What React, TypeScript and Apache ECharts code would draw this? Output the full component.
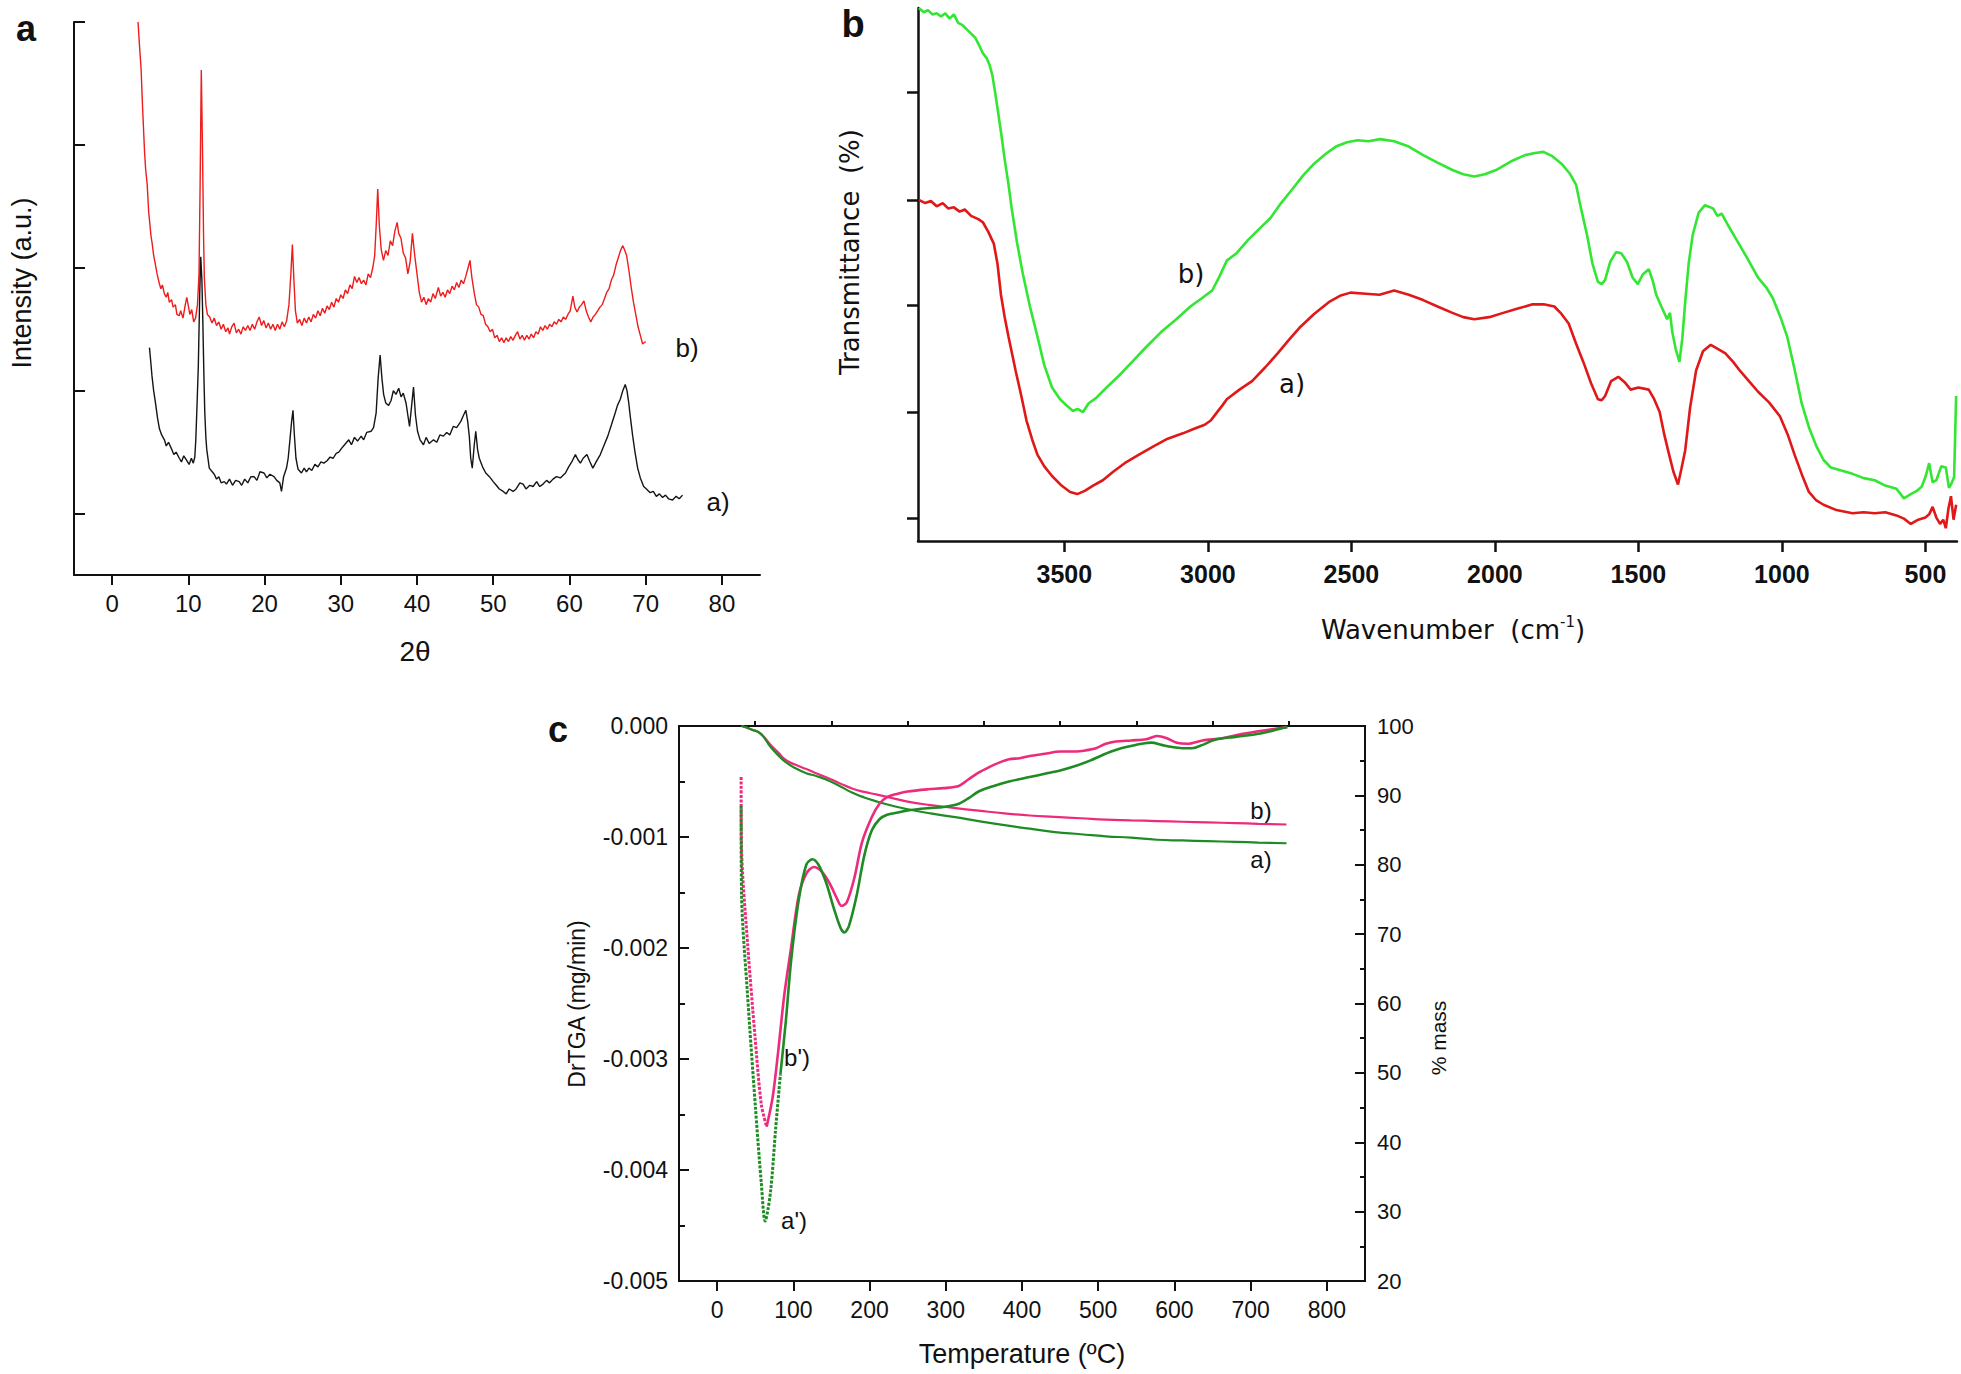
import React, { useEffect, useRef } from "react";
import * as echarts from "echarts";

// ---------- Panel a (XRD) ----------
const xrdTicksX = [0, 10, 20, 30, 40, 50, 60, 70, 80];
const xrdTicksY = [0.5, 1.5, 2.5, 3.5, 4.5];
const xrdB = [[3.4,4.5],[3.6,4.3],[3.8,4.12],[4.0,3.8],[4.25,3.45],[4.4,3.3],[4.6,3.18],[4.8,2.95],[4.9,2.89],[5.1,2.76],[5.25,2.7],[5.45,2.6],[5.7,2.52],[5.9,2.45],[6.2,2.37],[6.4,2.33],[6.6,2.36],[6.85,2.29],[7.1,2.26],[7.3,2.3],[7.5,2.22],[7.8,2.24],[8.0,2.18],[8.3,2.2],[8.5,2.12],[8.8,2.11],[9.0,2.15],[9.3,2.09],[9.6,2.2],[9.8,2.26],[10.0,2.19],[10.2,2.12],[10.45,2.16],[10.7,2.06],[10.95,2.09],[11.2,2.2],[11.4,2.45],[11.55,3.2],[11.7,4.11],[11.85,3.5],[12.0,2.75],[12.1,2.42],[12.3,2.2],[12.5,2.12],[12.8,2.1],[13.1,2.05],[13.4,2.09],[13.7,2.03],[14.0,2.06],[14.3,2.0],[14.6,2.04],[14.9,1.98],[15.2,2.01],[15.4,1.96],[15.7,2.02],[16.0,2.05],[16.3,1.97],[16.6,2.0],[16.9,1.96],[17.2,2.02],[17.5,1.99],[17.8,2.03],[18.1,1.99],[18.4,2.04],[18.7,2.0],[19.0,2.06],[19.3,2.1],[19.6,2.03],[19.9,2.07],[20.2,2.01],[20.5,2.05],[20.8,2.0],[21.1,2.04],[21.4,1.99],[21.7,2.04],[22.0,2.0],[22.3,2.06],[22.6,2.02],[22.9,2.07],[23.2,2.2],[23.45,2.45],[23.65,2.69],[23.85,2.4],[24.05,2.15],[24.3,2.05],[24.6,2.08],[24.9,2.03],[25.2,2.09],[25.5,2.05],[25.8,2.1],[26.1,2.06],[26.4,2.12],[26.7,2.09],[27.0,2.15],[27.3,2.11],[27.6,2.17],[27.9,2.13],[28.2,2.19],[28.5,2.16],[28.8,2.22],[29.1,2.18],[29.4,2.25],[29.7,2.22],[30.0,2.28],[30.3,2.25],[30.6,2.32],[30.9,2.29],[31.2,2.36],[31.5,2.33],[31.8,2.43],[32.1,2.38],[32.4,2.42],[32.7,2.37],[33.0,2.4],[33.3,2.36],[33.6,2.45],[33.9,2.42],[34.2,2.5],[34.45,2.6],[34.65,2.85],[34.85,3.14],[35.05,2.85],[35.3,2.65],[35.6,2.56],[35.9,2.64],[36.2,2.6],[36.5,2.72],[36.8,2.68],[37.1,2.8],[37.4,2.87],[37.6,2.78],[37.9,2.74],[38.2,2.62],[38.5,2.58],[38.8,2.45],[39.1,2.55],[39.4,2.78],[39.7,2.6],[40.0,2.45],[40.3,2.3],[40.6,2.22],[40.9,2.26],[41.2,2.2],[41.5,2.25],[41.8,2.22],[42.1,2.29],[42.4,2.25],[42.8,2.34],[43.1,2.27],[43.4,2.3],[43.7,2.26],[44.0,2.32],[44.3,2.29],[44.6,2.35],[44.9,2.32],[45.2,2.38],[45.5,2.34],[45.8,2.4],[46.1,2.37],[46.4,2.43],[46.7,2.5],[46.95,2.56],[47.2,2.42],[47.5,2.3],[47.8,2.2],[48.1,2.18],[48.4,2.12],[48.7,2.11],[49.0,2.04],[49.3,2.02],[49.6,1.98],[49.9,2.0],[50.2,1.93],[50.5,1.95],[50.8,1.9],[51.1,1.93],[51.4,1.89],[51.7,1.93],[52.0,1.9],[52.3,1.94],[52.6,1.91],[52.9,1.95],[53.2,1.98],[53.5,1.92],[53.8,1.95],[54.1,1.91],[54.4,1.95],[54.7,1.92],[55.0,1.96],[55.3,1.93],[55.6,1.98],[55.9,1.96],[56.2,2.02],[56.5,1.99],[56.8,2.03],[57.1,2.0],[57.4,2.04],[57.7,2.02],[58.0,2.06],[58.3,2.04],[58.6,2.08],[58.9,2.06],[59.2,2.1],[59.5,2.08],[59.8,2.12],[60.1,2.15],[60.45,2.27],[60.7,2.18],[61.0,2.14],[61.3,2.18],[61.6,2.2],[61.9,2.23],[62.2,2.15],[62.5,2.1],[62.8,2.06],[63.1,2.1],[63.4,2.12],[63.7,2.15],[64.0,2.18],[64.3,2.2],[64.6,2.25],[64.9,2.3],[65.2,2.33],[65.5,2.4],[65.8,2.44],[66.1,2.52],[66.4,2.58],[66.7,2.64],[67.0,2.68],[67.2,2.65],[67.5,2.6],[67.8,2.48],[68.1,2.34],[68.4,2.22],[68.7,2.12],[69.0,2.02],[69.3,1.95],[69.6,1.88],[70.0,1.9]];
const xrdA = [[4.9,1.85],[5.05,1.75],[5.23,1.62],[5.45,1.5],[5.69,1.4],[5.95,1.28],[6.21,1.19],[6.5,1.14],[6.86,1.1],[7.1,1.05],[7.4,1.08],[7.84,1.02],[8.1,0.98],[8.4,1.0],[8.82,0.95],[9.1,0.92],[9.4,0.97],[9.8,0.93],[10.1,0.9],[10.4,0.95],[10.65,0.91],[10.85,0.96],[10.98,1.1],[11.15,1.4],[11.31,1.7],[11.5,2.3],[11.63,2.59],[11.78,2.4],[11.9,2.07],[12.05,1.6],[12.16,1.32],[12.3,1.12],[12.42,1.02],[12.75,0.87],[13.0,0.85],[13.4,0.82],[13.7,0.78],[14.0,0.8],[14.3,0.75],[14.71,0.76],[15.0,0.74],[15.4,0.78],[15.8,0.73],[16.2,0.77],[16.67,0.76],[17.0,0.73],[17.4,0.78],[17.8,0.75],[18.2,0.8],[18.63,0.8],[19.0,0.77],[19.4,0.84],[19.93,0.83],[20.3,0.79],[20.7,0.82],[21.24,0.8],[21.6,0.77],[22.0,0.75],[22.22,0.68],[22.5,0.8],[22.88,0.87],[23.1,0.95],[23.33,1.1],[23.55,1.25],[23.73,1.34],[23.9,1.15],[24.12,0.95],[24.4,0.86],[24.84,0.83],[25.2,0.87],[25.5,0.84],[25.82,0.87],[26.2,0.85],[26.6,0.9],[27.0,0.88],[27.4,0.92],[27.78,0.91],[28.2,0.93],[28.6,0.96],[29.0,0.95],[29.4,0.99],[29.74,1.0],[30.1,1.03],[30.5,1.06],[31.05,1.1],[31.4,1.06],[31.8,1.12],[32.2,1.09],[32.68,1.13],[33.0,1.1],[33.4,1.16],[33.99,1.17],[34.3,1.2],[34.64,1.32],[34.9,1.6],[35.16,1.79],[35.4,1.6],[35.62,1.47],[35.9,1.4],[36.27,1.38],[36.6,1.42],[36.9,1.5],[37.25,1.47],[37.6,1.52],[37.91,1.45],[38.2,1.48],[38.56,1.4],[38.8,1.3],[39.02,1.21],[39.3,1.38],[39.54,1.53],[39.8,1.3],[40.07,1.17],[40.4,1.1],[40.85,1.06],[41.2,1.12],[41.6,1.07],[42.16,1.1],[42.6,1.08],[43.0,1.14],[43.46,1.13],[43.9,1.16],[44.3,1.14],[44.77,1.21],[45.2,1.2],[45.75,1.25],[46.1,1.3],[46.41,1.34],[46.65,1.25],[46.86,1.13],[47.05,0.95],[47.25,0.87],[47.5,1.05],[47.71,1.17],[47.95,1.02],[48.17,0.95],[48.6,0.88],[49.02,0.83],[49.5,0.8],[50.0,0.76],[50.4,0.73],[50.8,0.7],[51.31,0.68],[51.7,0.66],[52.1,0.7],[52.61,0.68],[53.0,0.7],[53.5,0.75],[53.92,0.74],[54.3,0.7],[54.8,0.73],[55.23,0.72],[55.7,0.76],[56.1,0.72],[56.54,0.74],[57.0,0.77],[57.4,0.75],[57.84,0.78],[58.3,0.8],[58.8,0.79],[59.48,0.83],[59.9,0.88],[60.3,0.92],[60.78,0.98],[61.1,0.94],[61.44,0.91],[61.8,0.95],[62.29,0.98],[62.7,0.92],[63.07,0.87],[63.5,0.92],[64.05,0.98],[64.5,1.05],[65.03,1.13],[65.5,1.22],[66.01,1.32],[66.3,1.38],[66.67,1.43],[67.0,1.5],[67.32,1.55],[67.55,1.5],[67.78,1.4],[68.0,1.28],[68.3,1.13],[68.6,1.0],[68.95,0.87],[69.3,0.79],[69.74,0.72],[70.1,0.7],[70.59,0.67],[71.0,0.68],[71.4,0.64],[71.8,0.66],[72.22,0.63],[72.6,0.65],[73.0,0.62],[73.53,0.61],[74.0,0.64],[74.4,0.62],[74.84,0.65]];

// ---------- Panel b (FTIR) ----------
const irTicksX = [500, 1000, 1500, 2000, 2500, 3000, 3500];
const irTicksY = [0.21, 1.21, 2.21, 3.2, 4.21];
const irB = [[4007,5.0],[3990,4.96],[3975,4.98],[3960,4.94],[3945,4.95],[3930,4.92],[3915,4.95],[3900,4.9],[3885,4.94],[3870,4.86],[3855,4.84],[3840,4.8],[3825,4.76],[3810,4.72],[3797,4.65],[3785,4.58],[3771,4.53],[3760,4.46],[3751,4.37],[3742,4.22],[3733,4.06],[3720,3.82],[3708,3.58],[3695,3.35],[3683,3.11],[3665,2.8],[3645,2.51],[3620,2.2],[3594,1.92],[3570,1.65],[3543,1.44],[3515,1.33],[3492,1.27],[3470,1.22],[3454,1.24],[3435,1.21],[3416,1.29],[3390,1.34],[3353,1.44],[3310,1.55],[3264,1.68],[3215,1.82],[3163,1.96],[3110,2.08],[3061,2.2],[3020,2.28],[2985,2.35],[2960,2.48],[2934,2.63],[2900,2.7],[2858,2.83],[2820,2.93],[2782,3.03],[2745,3.17],[2706,3.3],[2668,3.43],[2630,3.54],[2590,3.63],[2554,3.7],[2515,3.74],[2478,3.76],[2440,3.75],[2400,3.77],[2351,3.75],[2300,3.7],[2250,3.62],[2200,3.55],[2148,3.48],[2110,3.44],[2072,3.42],[2035,3.44],[1996,3.48],[1945,3.56],[1895,3.62],[1860,3.64],[1831,3.65],[1800,3.61],[1768,3.54],[1740,3.45],[1717,3.34],[1700,3.12],[1679,2.87],[1660,2.6],[1641,2.43],[1628,2.41],[1616,2.45],[1598,2.62],[1578,2.71],[1560,2.7],[1540,2.62],[1520,2.47],[1502,2.41],[1485,2.5],[1464,2.55],[1450,2.44],[1438,2.31],[1420,2.2],[1400,2.08],[1390,2.14],[1382,1.96],[1370,1.8],[1357,1.68],[1347,1.9],[1337,2.24],[1325,2.6],[1311,2.87],[1290,3.08],[1268,3.15],[1240,3.12],[1225,3.05],[1210,3.07],[1185,2.95],[1159,2.83],[1120,2.65],[1083,2.47],[1055,2.38],[1032,2.28],[1005,2.1],[982,1.92],[955,1.6],[931,1.29],[905,1.06],[880,0.89],[855,0.76],[830,0.69],[790,0.66],[754,0.63],[715,0.59],[677,0.57],[640,0.52],[601,0.49],[575,0.4],[551,0.44],[530,0.47],[513,0.51],[500,0.6],[487,0.73],[475,0.55],[462,0.57],[445,0.7],[429,0.69],[418,0.5],[411,0.53],[400,0.6],[393,1.36]];
const irA = [[4007,3.2],[3985,3.17],[3965,3.19],[3945,3.14],[3924,3.17],[3905,3.12],[3885,3.13],[3865,3.09],[3847,3.11],[3825,3.05],[3800,3.02],[3784,2.99],[3765,2.9],[3746,2.79],[3733,2.6],[3721,2.31],[3708,2.1],[3695,1.92],[3670,1.6],[3650,1.36],[3632,1.13],[3612,0.95],[3594,0.81],[3570,0.7],[3543,0.61],[3510,0.52],[3480,0.46],[3455,0.44],[3429,0.47],[3400,0.52],[3366,0.57],[3330,0.65],[3290,0.73],[3240,0.81],[3188,0.89],[3140,0.96],[3087,1.01],[3050,1.05],[3011,1.09],[2990,1.13],[2973,1.19],[2950,1.27],[2934,1.33],[2890,1.42],[2846,1.5],[2800,1.63],[2757,1.76],[2720,1.88],[2681,2.0],[2630,2.13],[2579,2.24],[2540,2.3],[2503,2.33],[2450,2.32],[2402,2.31],[2351,2.35],[2300,2.31],[2250,2.26],[2200,2.2],[2148,2.14],[2110,2.1],[2072,2.08],[2020,2.1],[1971,2.14],[1920,2.18],[1869,2.22],[1830,2.22],[1793,2.2],[1768,2.13],[1743,2.04],[1717,1.85],[1692,1.68],[1665,1.48],[1641,1.33],[1628,1.32],[1616,1.36],[1595,1.5],[1570,1.54],[1548,1.49],[1527,1.42],[1500,1.44],[1464,1.42],[1445,1.33],[1426,1.21],[1410,1.0],[1393,0.81],[1378,0.65],[1362,0.53],[1350,0.68],[1337,0.85],[1320,1.25],[1299,1.6],[1275,1.78],[1248,1.84],[1222,1.8],[1197,1.76],[1170,1.68],[1147,1.6],[1115,1.5],[1083,1.4],[1045,1.3],[1007,1.17],[980,1.0],[956,0.81],[930,0.62],[906,0.46],[880,0.38],[855,0.34],[810,0.29],[754,0.26],[715,0.27],[677,0.26],[640,0.27],[601,0.24],[575,0.21],[551,0.16],[525,0.2],[500,0.22],[487,0.25],[475,0.32],[462,0.22],[449,0.16],[438,0.2],[429,0.12],[420,0.3],[411,0.42],[402,0.2],[393,0.34]];

// ---------- Panel c (TGA / DrTGA) ----------
const tgaTicksX = [0, 100, 200, 300, 400, 500, 600, 700, 800];
const tgaMinorX = [50, 150, 250, 350, 450, 550, 650, 750];
// DrTGA b' : sparse (dotted) start, then continuous
const drtgaBStart = [[31.5,-0.00046],[32,-0.00109],[40,-0.00196],[50,-0.00282],[58,-0.00341],[65,-0.00361]];
const drtgaB = [[65,-0.00361],[73,-0.00334],[80,-0.00294],[88,-0.00243],[97,-0.002],[107,-0.00153],[117,-0.00133],[127,-0.00127],[137,-0.00131],[147,-0.00141],[157,-0.00155],[163,-0.00162],[170,-0.00159],[180,-0.00137],[190,-0.00105],[203,-0.00082],[213,-0.0007],[223,-0.00064],[237,-0.00061],[250,-0.00059],[277,-0.00057],[297,-0.00056],[317,-0.00054],[330,-0.00048],[343,-0.00042],[357,-0.00037],[370,-0.00033],[383,-0.0003],[397,-0.00029],[410,-0.00027],[430,-0.00025],[450,-0.00023],[470,-0.00023],[483,-0.00022],[497,-0.0002],[510,-0.00016],[523,-0.00014],[543,-0.00013],[563,-0.00012],[577,-0.00009],[590,-0.00011],[603,-0.00015],[617,-0.00016],[637,-0.00013],[663,-0.00011],[690,-0.00007],[717,-0.00004],[748,-0.00001]];
// DrTGA a'
const drtgaAStart = [[31.5,-0.00072],[32,-0.0015],[40,-0.00243],[50,-0.00341],[58,-0.00412],[63,-0.00446],[70,-0.0042],[77,-0.00361],[83,-0.00314]];
const drtgaA = [[83,-0.00314],[90,-0.00267],[97,-0.00212],[107,-0.00157],[117,-0.00125],[125,-0.0012],[133,-0.00125],[143,-0.00141],[153,-0.00164],[162,-0.00182],[167,-0.00186],[173,-0.0018],[183,-0.00153],[193,-0.00117],[203,-0.00094],[213,-0.00084],[223,-0.0008],[237,-0.00078],[250,-0.00076],[277,-0.00074],[297,-0.00073],[317,-0.0007],[330,-0.00065],[343,-0.00059],[363,-0.00054],[383,-0.0005],[410,-0.00046],[430,-0.00043],[450,-0.0004],[470,-0.00036],[490,-0.00031],[503,-0.00027],[517,-0.00023],[530,-0.0002],[543,-0.00018],[557,-0.00016],[570,-0.00015],[583,-0.00017],[597,-0.00019],[610,-0.0002],[623,-0.0002],[637,-0.00017],[650,-0.00013],[663,-0.00011],[677,-0.0001],[690,-0.00009],[710,-0.00007],[730,-0.00004],[748,-0.00001]];
const massB = [[32,100],[45,99.5],[57,98.9],[70,97.3],[80,96.2],[90,95.1],[103,94.4],[117,93.8],[130,93.2],[143,92.6],[160,91.8],[177,91],[193,90.5],[210,90.1],[230,89.6],[250,89.1],[280,88.6],[310,88.2],[343,87.8],[377,87.4],[410,87.1],[443,86.9],[477,86.7],[510,86.5],[543,86.4],[577,86.3],[610,86.2],[643,86.1],[680,86],[710,85.9],[747,85.8]];
const massA = [[32,100],[45,99.5],[57,98.9],[70,97],[80,95.8],[90,94.8],[103,93.9],[117,93.2],[130,92.8],[143,92.3],[160,91.4],[177,90.4],[193,89.7],[210,89.1],[230,88.5],[250,88],[280,87.4],[310,86.9],[343,86.3],[377,85.7],[410,85.2],[443,84.7],[477,84.4],[510,84.1],[543,83.9],[577,83.6],[610,83.5],[643,83.4],[680,83.3],[710,83.2],[747,83.1]];

const SANS = "'Liberation Sans', Arial, sans-serif";
const VERD = "'DejaVu Sans', Verdana, sans-serif";
const INK = "#111";
const PINK = "#ee2a7b";
const GREEN = "#1f8b24";

function line(data: number[][], color: string, width: number, xi: number, yi: number, smooth: any = false, type: any = "solid") {
  return {
    type: "line", data, xAxisIndex: xi, yAxisIndex: yi, showSymbol: false, symbol: "none",
    smooth, lineStyle: { color, width, type }, silent: true, z: 3,
  };
}

function txt(text: string, x: number, y: number, size: number, opts: any = {}) {
  return {
    type: "text", x, y, rotation: opts.rot || 0, silent: true,
    style: {
      text, fontSize: size, fontFamily: opts.family || SANS, fontWeight: opts.weight || "normal",
      fill: INK, align: opts.align || "center", verticalAlign: "middle",
    },
  };
}

export default function App() {
  const ref = useRef<HTMLDivElement>(null);
  useEffect(() => {
    if (!ref.current) return;
    const chart = echarts.init(ref.current, null, { renderer: "svg" });
    const axisLine = (w: number) => ({ show: true, onZero: false, lineStyle: { color: INK, width: w } });
    chart.setOption({
      animation: false,
      backgroundColor: "#ffffff",
      grid: [
        { left: 74, top: 22, width: 686, height: 553 },
        { left: 918, top: 8, width: 1039, height: 533 },
        { left: 679, top: 726, width: 686, height: 555, show: true, borderColor: INK, borderWidth: 2, backgroundColor: "transparent" },
      ],
      xAxis: [
        {
          gridIndex: 0, type: "value", min: -5, max: 85, axisLine: axisLine(2), splitLine: { show: false },
          axisTick: { customValues: xrdTicksX, length: 10, lineStyle: { color: INK, width: 2 } },
          axisLabel: { customValues: xrdTicksX, fontSize: 24, fontFamily: SANS, color: INK, margin: 16 },
        },
        {
          gridIndex: 1, type: "value", min: 390, max: 4010, inverse: true, axisLine: axisLine(2.5), splitLine: { show: false },
          axisTick: { customValues: irTicksX, length: 11, lineStyle: { color: INK, width: 2.5 } },
          axisLabel: { customValues: irTicksX, fontSize: 25, fontWeight: "bold", fontFamily: SANS, color: INK, margin: 20, formatter: (v: number) => String(v) },
        },
        {
          gridIndex: 2, type: "value", min: -50, max: 850, axisLine: axisLine(2), splitLine: { show: false },
          axisTick: { customValues: tgaTicksX, length: 10, lineStyle: { color: INK, width: 2 } },
          axisLabel: { customValues: tgaTicksX, fontSize: 23, fontFamily: SANS, color: INK, margin: 17 },
        },
        {
          gridIndex: 2, type: "value", min: -50, max: 850, axisLine: { show: false }, splitLine: { show: false },
          axisTick: { customValues: tgaMinorX, length: 5, lineStyle: { color: INK, width: 2 } },
          axisLabel: { show: false },
        },
      ],
      yAxis: [
        {
          gridIndex: 0, type: "value", min: 0, max: 4.5, axisLine: axisLine(2), splitLine: { show: false },
          axisTick: { inside: true, customValues: xrdTicksY, length: 11, lineStyle: { color: INK, width: 2 } },
          axisLabel: { show: false },
        },
        {
          gridIndex: 1, type: "value", min: 0, max: 5, axisLine: axisLine(2.5), splitLine: { show: false },
          axisTick: { customValues: irTicksY, length: 11, lineStyle: { color: INK, width: 2.5 } },
          axisLabel: { show: false },
        },
        {
          gridIndex: 2, type: "value", min: -0.005, max: 0, interval: 0.001, axisLine: axisLine(2), splitLine: { show: false },
          axisTick: { inside: true, length: 10, lineStyle: { color: INK, width: 2 } },
          minorTick: { show: true, splitNumber: 2, length: 6, lineStyle: { color: INK, width: 2 } },
          axisLabel: { fontSize: 23, fontFamily: SANS, color: INK, margin: 11, formatter: (v: number) => v.toFixed(3) },
        },
        {
          gridIndex: 2, type: "value", position: "right", min: 20, max: 100, interval: 10, axisLine: axisLine(2), splitLine: { show: false },
          axisTick: { inside: true, length: 10, lineStyle: { color: INK, width: 2 } },
          minorTick: { show: true, splitNumber: 2, length: 5, lineStyle: { color: INK, width: 2 } },
          axisLabel: { fontSize: 22, fontFamily: SANS, color: INK, margin: 12 },
        },
      ],
      series: [
        line(xrdB, "#ee1c1c", 1.4, 0, 0),
        line(xrdA, "#151515", 1.4, 0, 0),
        line(irB, "#33e633", 2.6, 1, 1),
        line(irA, "#e01818", 2.6, 1, 1),
        line(massB, PINK, 2.2, 2, 3, true),
        line(massA, GREEN, 2.2, 2, 3, true),
        line(drtgaBStart, PINK, 3, 2, 2, 0.3, [3, 1.5]),
        line(drtgaB, PINK, 2.6, 2, 2, 0.3),
        line(drtgaAStart, GREEN, 3, 2, 2, 0.3, [3, 1.5]),
        line(drtgaA, GREEN, 2.6, 2, 2, 0.3),
      ],
      graphic: [
        txt("a", 26, 28, 36, { weight: "bold" }),
        txt("Intensity (a.u.)", 22, 283, 27, { rot: Math.PI / 2 }),
        txt("2\u03b8", 415, 651, 28),
        txt("b)", 687, 348, 26),
        txt("a)", 718, 502, 26),
        txt("b", 853, 24, 38, { weight: "bold" }),
        txt("Transmittance  (%)", 850, 252, 26, { rot: Math.PI / 2, family: VERD }),
        {
          type: "text", x: 1453, y: 627, silent: true,
          style: {
            text: "{n|Wavenumber  (cm}{s|-1}{n|)}", align: "center", verticalAlign: "middle",
            rich: {
              n: { fontSize: 26, fontFamily: VERD, fill: INK, verticalAlign: "bottom", lineHeight: 32 },
              s: { fontSize: 15, fontFamily: VERD, fill: INK, verticalAlign: "bottom", padding: [0, 0, 14, 0], lineHeight: 32 },
            },
          },
        },
        txt("b)", 1191, 274, 26, { family: VERD }),
        txt("a)", 1292, 384, 26, { family: VERD }),
        txt("c", 558, 729, 36, { weight: "bold" }),
        txt("DrTGA (mg/min)", 577, 1004, 23, { rot: Math.PI / 2 }),
        txt("Temperature (\u00baC)", 1022, 1354, 27),
        txt("% mass", 1438, 1038, 21, { rot: Math.PI / 2 }),
        txt("b)", 1261, 810, 24),
        txt("a)", 1261, 859, 24),
        txt("b')", 797, 1057, 24),
        txt("a')", 794, 1220, 24),
      ],
    });
    return () => chart.dispose();
  }, []);
  return (
    <div
      ref={ref}
      style={{ position: "fixed", left: 0, top: 0, width: 1961, height: 1374, background: "#fff" }}
    />
  );
}
